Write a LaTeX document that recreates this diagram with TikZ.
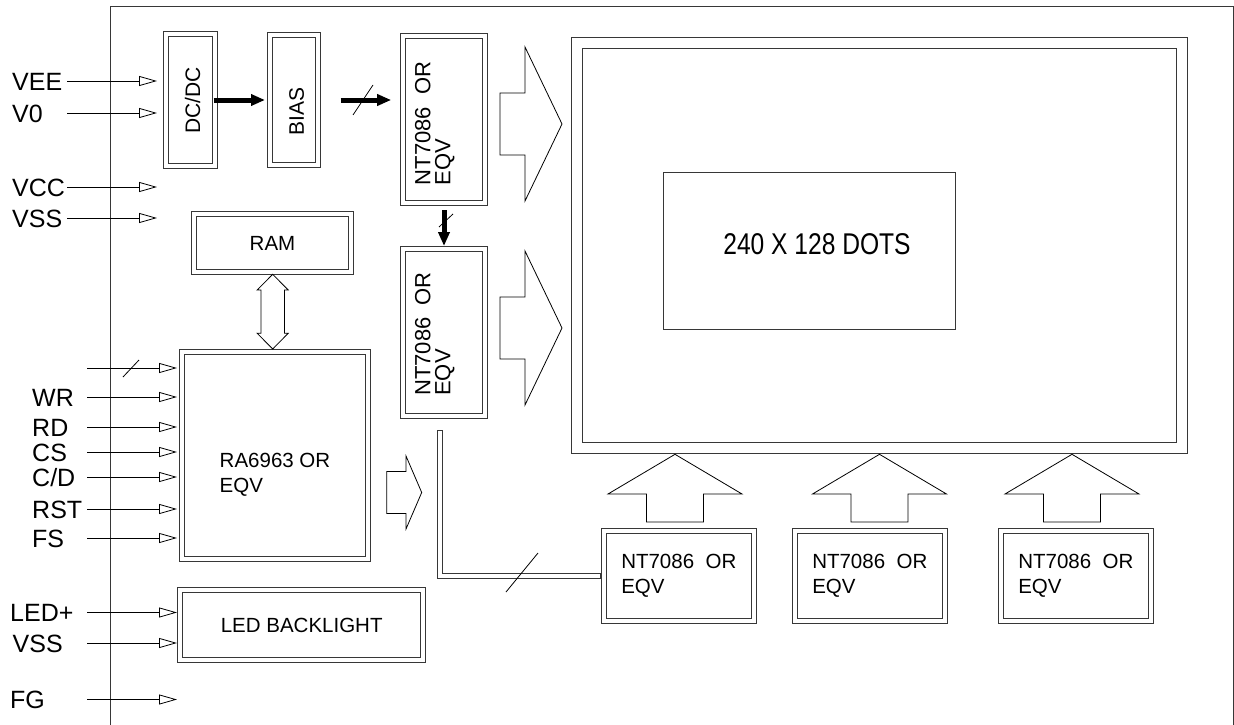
\documentclass[tikz,border=0pt]{standalone}
\usepackage{fontspec}
\setsansfont{Liberation Sans}
\usepackage{graphicx}
\usetikzlibrary{positioning, arrows.meta}
\definecolor{lnGray}{RGB}{55,55,55}
\tikzset{
  base/.style={
    font=\sffamily, text=black, inner sep=0pt
  },
  dbox/.style={
    draw=lnGray, line width=1pt, inner sep=0pt,
    path picture={
      \draw[lnGray, line width=1pt]
        ([shift={(#1,-#1)}]path picture bounding box.north west) rectangle
        ([shift={(-#1,#1)}]path picture bounding box.south east);
    }
  },
  dbox/.default=5pt,
  sbox/.style={
    draw=lnGray, line width=1pt, inner sep=0pt
  },
  txt/.style={
    base, font=\sffamily\fontsize{20.5}{25}\selectfont, align=left
  },
  vtxt/.style={
    base, font=\sffamily\fontsize{22}{20}\selectfont, align=left, rotate=90
  },
  ntbox/.style={
    dbox, txt, minimum width=155pt, minimum height=95pt
  },
  pinlbl/.style={
    base, font=\sffamily\fontsize{25}{30}\selectfont, anchor=base west
  },
  pinarr/.style={
    -{Triangle[open, length=18pt, width=10pt]}, line width=0.8pt
  },
  fatarr/.style={
    -{Triangle[length=14pt, width=11pt]}, line width=5pt
  },
  hollow/.style={
    draw=black, line width=0.8pt, line join=miter
  },
  slash/.style={line width=0.8pt},
  bus/.style={
    draw=lnGray, line width=1pt, double=white, double distance=4pt
  }
}

\begin{document}
\begin{tikzpicture}[x=1pt, y=-1pt]
    \useasboundingbox (0,0) rectangle (1234,725);

    % ============================================================
    % MODULE FRAME
    % ============================================================
    \draw[lnGray, line width=0.9pt] (110,725) -- (110,6) -- (1233,6) -- (1233,725);

    % ============================================================
    % BLOCKS
    % ============================================================
    \node (dcdc) [dbox, minimum width=54pt, minimum height=136pt] at (190,100) {};
    \node (bias) [dbox, minimum width=53.7pt, minimum height=135.6pt, right=49pt of dcdc] {};
    \node (dcdcTxt) [vtxt, font=\sffamily\fontsize{21}{25}\selectfont] at (192.5,100.5) {DC/DC};
    \node (biasTxt) [vtxt, font=\sffamily\fontsize{21}{25}\selectfont] at (296.7,111.5) {BIAS};

    \node (nt1) [dbox, minimum width=86.6pt, minimum height=171.7pt] at (444,119.2) {};
    \node (nt2) [dbox, minimum width=86.6pt, minimum height=172pt, below=40pt of nt1] {};
    \node (nt1Txt) [vtxt] at (434.7,123.5) {NT7086~~OR\\EQV};
    \node (nt2Txt) [vtxt] at (434.7,334) {NT7086~~OR\\EQV};

    \node (ram) [dbox, txt, minimum width=161.6pt, minimum height=63.3pt] at (272.5,243.3) {RAM};
    \node (ra) [dbox, minimum width=191.4pt, minimum height=212pt] at (275,455) {};
    \node (raTxt) [txt] at (275,475) {RA6963 OR\\EQV};
    \node (led) [dbox, txt, minimum width=248pt, minimum height=74.6pt] at (301.7,625) {LED BACKLIGHT};

    % display panel
    \node (disp) [dbox=11pt, minimum width=616pt, minimum height=415pt] at (879,245.5) {};
    \node (dots) [sbox, minimum width=292pt, minimum height=157pt] at (809,250.5) {};
    \node (dotsTxt) [base, font=\sffamily\fontsize{30}{36}\selectfont] at (817,244) {\scalebox{0.82}[1]{240 X 128 DOTS}};

    % column drivers
    \node (nt3) [ntbox] at (678.8,575.8) {NT7086~~OR\\EQV};
    \node (nt4) [ntbox, right=35pt of nt3] {NT7086~~OR\\EQV};
    \node (nt5) [ntbox, right=50pt of nt4] {NT7086~~OR\\EQV};

    % ============================================================
    % INTERFACE PINS
    % ============================================================
    \foreach \t/\y [count=\i] in {VEE/81, V0/113, VCC/187, VSS/218} {
      \node (pa\i) [pinlbl] at (12,\y+9) {\t};
      \draw[pinarr] (67,\y) -- (157,\y);
    }
    \foreach \t/\y [count=\i] in {WR/397, RD/427, CS/452, {C/D}/477, RST/509, FS/538} {
      \node (pb\i) [pinlbl] at (32,\y+9) {\t};
      \draw[pinarr] (87,\y) -- (177,\y);
    }
    \foreach \t/\x/\y [count=\i] in {LED+/10/612.5, VSS/12.5/643, FG/10/699.5} {
      \node (pc\i) [pinlbl] at (\x,\y+9) {\t};
      \draw[pinarr] (87,\y) -- (177,\y);
    }
    % data bus in
    \draw[pinarr] (87,368) -- (177,368);
    \draw[slash] (123,377) -- (139,360);

    % ============================================================
    % CONNECTIONS
    % ============================================================
    \draw[fatarr, shorten <=-4pt, shorten >=1.5pt] (dcdc.east) -- (bias.west);
    \draw[fatarr, shorten <=19.5pt, shorten >=9pt] (bias.east) -- (bias.east -| nt1.west);
    \draw[slash] (353,115) -- (373,85);
    \draw[fatarr, shorten <=4.5pt, shorten >=-0.5pt] (nt1) -- (nt2);
    \draw[slash] (439,227) -- (453,214);

    % bus to the column drivers
    \coordinate (busTop) at (440,433);
    \draw[bus, line cap=rect, shorten >=3pt] (busTop) |- (nt3.west);
    \draw[slash] (506,592) -- (538,553);

    % hollow data arrows
    \foreach \c in {124, 328}
      \draw[hollow] (500,\c-31) -- (525,\c-31) -- (525,\c-77) -- (562,\c)
        -- (525,\c+77) -- (525,\c+31) -- (500,\c+31) -- cycle;
    \draw[hollow] (386.7,471.5) -- (406,471.5) -- (406,456) -- (421.7,492.5)
      -- (406,529) -- (406,513.5) -- (386.7,513.5) -- cycle;
    \foreach \c in {675, 879.5, 1072}
      \draw[hollow] (\c-28.5,522) -- (\c-28.5,494) -- (\c-67,494) -- (\c,454.3)
        -- (\c+67,494) -- (\c+28.5,494) -- (\c+28.5,522) -- cycle;
    % RAM <-> controller
    \draw[hollow] (272.7,274.3) -- (288.2,290) -- (284.4,290) -- (284.4,333.3)
      -- (288.2,333.3) -- (272.7,349) -- (257.2,333.3) -- (261,333.3)
      -- (261,290) -- (257.2,290) -- cycle;

\end{tikzpicture}
\end{document}
